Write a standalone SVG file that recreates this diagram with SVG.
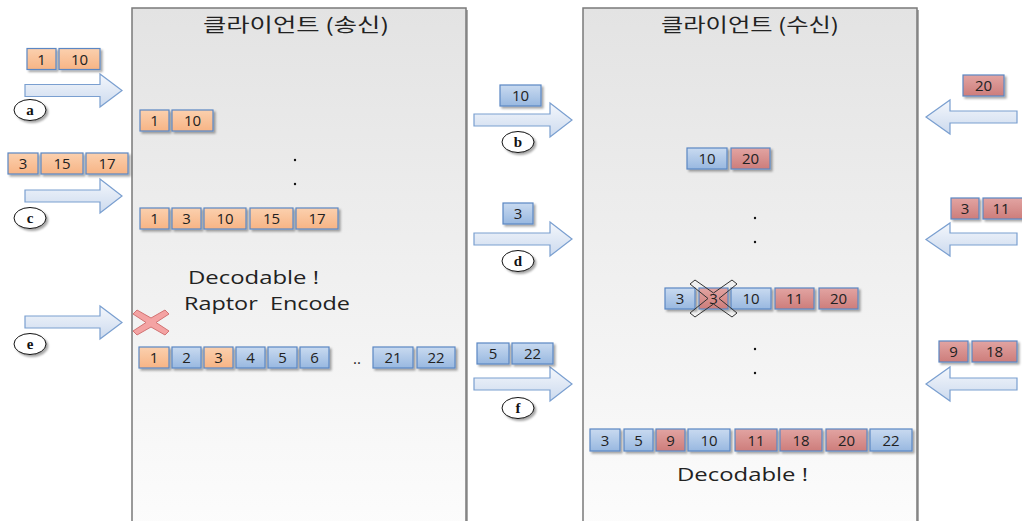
<svg xmlns="http://www.w3.org/2000/svg" width="1022" height="521" viewBox="0 0 1022 521">
<defs>
<linearGradient id="gPanel" x1="0" y1="0" x2="0" y2="1"><stop offset="0" stop-color="#e3e3e3"/><stop offset="1" stop-color="#fcfcfc"/></linearGradient>
<linearGradient id="gO" x1="0" y1="0" x2="0" y2="1"><stop offset="0" stop-color="#fbd0ae"/><stop offset="1" stop-color="#f7b485"/></linearGradient>
<linearGradient id="gB" x1="0" y1="0" x2="0" y2="1"><stop offset="0" stop-color="#c9daf0"/><stop offset="1" stop-color="#98b8e0"/></linearGradient>
<linearGradient id="gR" x1="0" y1="0" x2="0" y2="1"><stop offset="0" stop-color="#e2a4a2"/><stop offset="1" stop-color="#cd7d7b"/></linearGradient>
<linearGradient id="gA" x1="0" y1="0" x2="0" y2="1"><stop offset="0" stop-color="#f4f7fc"/><stop offset="1" stop-color="#ccdaee"/></linearGradient>
<filter id="sh" x="-20%" y="-20%" width="150%" height="160%"><feDropShadow dx="2" dy="2" stdDeviation="1" flood-color="#000" flood-opacity="0.35"/></filter>
</defs>
<style>
.panel{fill:url(#gPanel);stroke:#7a7a7a;stroke-width:1.5}
.o{fill:url(#gO);stroke:#5b87c3;stroke-width:1.2;filter:url(#sh)}
.b{fill:url(#gB);stroke:#5b87c3;stroke-width:1.2;filter:url(#sh)}
.r{fill:url(#gR);stroke:#5b87c3;stroke-width:1.2;filter:url(#sh)}
.t{font-family:"Open Sans","Liberation Sans",Arial,sans-serif;font-size:15px;fill:#222;text-anchor:middle}
.arr{fill:url(#gA);stroke:#7a9fd0;stroke-width:1.2}
.circ{fill:#fff;stroke:#111;stroke-width:1;filter:url(#sh)}
.lbl{font-family:"Liberation Serif","Times New Roman",serif;font-weight:bold;font-size:15px;fill:#111;text-anchor:middle}
.title{font-family:"Noto Sans CJK KR","Noto Sans",sans-serif;font-size:19px;fill:#222;text-anchor:middle}
.big{font-family:"Open Sans","Liberation Sans",sans-serif;font-size:19px;fill:#222}
.dot{fill:#111}
</style>

<g id="panel-send">
<rect x="134" y="10" width="334" height="520" fill="#555" opacity="0.5"/>
<rect class="panel" x="132" y="8" width="334" height="520"/>
<text class="title" x="296" y="32" textLength="186" lengthAdjust="spacingAndGlyphs">클라이언트 (송신)</text>
</g>
<g id="panel-recv">
<rect x="585" y="10" width="334" height="520" fill="#555" opacity="0.5"/>
<rect class="panel" x="583" y="8" width="334" height="520"/>
<text class="title" x="750" y="32" textLength="178" lengthAdjust="spacingAndGlyphs">클라이언트 (수신)</text>
</g>

<g id="connectors">
<path class="arr" d="M25,84.5 L100,84.5 L100,74 L122,90.5 L100,107 L100,96.5 L25,96.5 Z"/>
<path class="arr" d="M25,190 L100,190 L100,179 L122,196 L100,213 L100,202 L25,202 Z"/>
<path class="arr" d="M25,316 L100,316 L100,306 L122,322.5 L100,339 L100,328 L25,328 Z"/>
<path class="arr" d="M474,114 L550,114 L550,103 L572,120 L550,137 L550,126 L474,126 Z"/>
<path class="arr" d="M474,233 L550,233 L550,222 L572,239 L550,256 L550,245 L474,245 Z"/>
<path class="arr" d="M474,378 L550,378 L550,367 L572,384 L550,401 L550,390 L474,390 Z"/>
<path class="arr" d="M1017,111 L950,111 L950,100 L926,117 L950,134 L950,123 L1017,123 Z"/>
<path class="arr" d="M1017,233 L950,233 L950,223 L926,239.5 L950,256 L950,245 L1017,245 Z"/>
<path class="arr" d="M1017,378 L950,378 L950,367 L926,384 L950,401 L950,390 L1017,390 Z"/>
</g>

<g id="label-a"><ellipse class="circ" cx="30" cy="110" rx="16" ry="10.5"/><text class="lbl" x="30" y="114.5">a</text></g>
<g id="label-c"><ellipse class="circ" cx="30" cy="218" rx="16" ry="10.5"/><text class="lbl" x="30" y="222.5">c</text></g>
<g id="label-e"><ellipse class="circ" cx="30" cy="344" rx="16" ry="10.5"/><text class="lbl" x="30" y="348.5">e</text></g>
<g id="label-b"><ellipse class="circ" cx="518" cy="142" rx="16" ry="10.5"/><text class="lbl" x="518" y="146.5">b</text></g>
<g id="label-d"><ellipse class="circ" cx="518" cy="261" rx="16" ry="10.5"/><text class="lbl" x="518" y="265.5">d</text></g>
<g id="label-f"><ellipse class="circ" cx="518" cy="408" rx="16" ry="10.5"/><text class="lbl" x="518" y="412.5">f</text></g>

<g id="in-a">
<rect class="o" x="27" y="48.5" width="29" height="21"/><text class="t" x="41.5" y="64.5">1</text>
<rect class="o" x="59" y="48.5" width="41" height="21"/><text class="t" x="79.5" y="64.5">10</text>
</g>
<g id="in-c">
<rect class="o" x="8" y="153" width="30" height="21"/><text class="t" x="23" y="169">3</text>
<rect class="o" x="41" y="153" width="42" height="21"/><text class="t" x="62" y="169">15</text>
<rect class="o" x="86" y="153" width="42" height="21"/><text class="t" x="107" y="169">17</text>
</g>
<g id="lost-e">
<path d="M133,314 L137,310 L151,318 L165,310 L169,314 L156,322.5 L169,331 L165,335 L151,327 L137,335 L133,331 L146,322.5 Z" fill="#f4a3a3" stroke="#d27373" stroke-width="1"/>
</g>

<g id="send-row1">
<rect class="o" x="140" y="110" width="29" height="21"/><text class="t" x="154.5" y="126">1</text>
<rect class="o" x="172" y="110" width="41" height="21"/><text class="t" x="192.5" y="126">10</text>
</g>
<g id="send-dots"><circle class="dot" cx="295" cy="160" r="1.2"/><circle class="dot" cx="295" cy="184" r="1.2"/></g>
<g id="send-row2">
<rect class="o" x="140" y="208" width="29" height="21"/><text class="t" x="154.5" y="224">1</text>
<rect class="o" x="172" y="208" width="29" height="21"/><text class="t" x="186.5" y="224">3</text>
<rect class="o" x="204" y="208" width="42" height="21"/><text class="t" x="225" y="224">10</text>
<rect class="o" x="250" y="208" width="43" height="21"/><text class="t" x="271.5" y="224">15</text>
<rect class="o" x="296" y="208" width="42" height="21"/><text class="t" x="317" y="224">17</text>
</g>
<g id="send-text">
<text class="big" x="188" y="284" textLength="131" lengthAdjust="spacingAndGlyphs">Decodable !</text>
<text class="big" x="184" y="310" textLength="166" lengthAdjust="spacingAndGlyphs" xml:space="preserve">Raptor  Encode</text>
</g>
<g id="send-row3">
<rect class="o" x="139" y="347" width="30" height="21"/><text class="t" x="154" y="363">1</text>
<rect class="b" x="172" y="347" width="29" height="21"/><text class="t" x="186.5" y="363">2</text>
<rect class="o" x="204" y="347" width="29" height="21"/><text class="t" x="218.5" y="363">3</text>
<rect class="b" x="236" y="347" width="29" height="21"/><text class="t" x="250.5" y="363">4</text>
<rect class="b" x="268" y="347" width="29" height="21"/><text class="t" x="282.5" y="363">5</text>
<rect class="b" x="300" y="347" width="29" height="21"/><text class="t" x="314.5" y="363">6</text>
<text class="t" x="357" y="364">..</text>
<rect class="b" x="373" y="347" width="40" height="21"/><text class="t" x="393" y="363">21</text>
<rect class="b" x="417" y="347" width="38" height="21"/><text class="t" x="436" y="363">22</text>
</g>

<g id="pkt-b"><rect class="b" x="500" y="85" width="41" height="21"/><text class="t" x="520.5" y="101">10</text></g>
<g id="pkt-d"><rect class="b" x="503" y="203" width="30" height="21"/><text class="t" x="518" y="219">3</text></g>
<g id="pkt-f">
<rect class="b" x="477" y="343" width="32" height="21"/><text class="t" x="493" y="359">5</text>
<rect class="b" x="512" y="343" width="41" height="21"/><text class="t" x="532.5" y="359">22</text>
</g>

<g id="pkt-in-20"><rect class="r" x="963" y="75" width="41" height="21"/><text class="t" x="983.5" y="91">20</text></g>
<g id="pkt-in-11">
<rect class="r" x="951" y="198" width="28" height="21"/><text class="t" x="965" y="214">3</text>
<rect class="r" x="983" y="198" width="40" height="21"/><text class="t" x="1001" y="214">11</text>
</g>
<g id="pkt-in-18">
<rect class="r" x="939" y="341" width="29" height="21"/><text class="t" x="953.5" y="357">9</text>
<rect class="r" x="972" y="341" width="45" height="21"/><text class="t" x="994.5" y="357">18</text>
</g>

<g id="recv-row1">
<rect class="b" x="687" y="148" width="40" height="21"/><text class="t" x="707" y="164">10</text>
<rect class="r" x="731" y="148" width="39" height="21"/><text class="t" x="750.5" y="164">20</text>
</g>
<g id="recv-dots1"><circle class="dot" cx="755" cy="218" r="1.2"/><circle class="dot" cx="755" cy="242" r="1.2"/></g>
<g id="recv-row2">
<rect class="b" x="665" y="288" width="30" height="21"/><text class="t" x="680" y="304">3</text>
<rect class="r" x="699" y="288" width="29" height="21"/><text class="t" x="713.5" y="304">3</text>
<rect class="b" x="731" y="288" width="40" height="21"/><text class="t" x="751" y="304">10</text>
<rect class="r" x="775" y="288" width="39" height="21"/><text class="t" x="794.5" y="304">11</text>
<rect class="r" x="819" y="288" width="39" height="21"/><text class="t" x="838.5" y="304">20</text>
<path d="M690,284 L695,280 L713.5,293 L732,280 L737,284 L719,298.5 L737,313 L732,317 L713.5,304 L695,317 L690,313 L708,298.5 Z" fill="none" stroke="#333" stroke-width="1"/>
</g>
<g id="recv-dots2"><circle class="dot" cx="755" cy="349" r="1.2"/><circle class="dot" cx="755" cy="373" r="1.2"/></g>
<g id="recv-row3">
<rect class="b" x="590" y="429" width="30" height="22"/><text class="t" x="605" y="445.5">3</text>
<rect class="b" x="624" y="429" width="29" height="22"/><text class="t" x="638.5" y="445.5">5</text>
<rect class="r" x="656" y="429" width="29" height="22"/><text class="t" x="670.5" y="445.5">9</text>
<rect class="b" x="688" y="429" width="42" height="22"/><text class="t" x="709" y="445.5">10</text>
<rect class="r" x="735" y="429" width="42" height="22"/><text class="t" x="756" y="445.5">11</text>
<rect class="r" x="780" y="429" width="42" height="22"/><text class="t" x="801" y="445.5">18</text>
<rect class="r" x="826" y="429" width="41" height="22"/><text class="t" x="846.5" y="445.5">20</text>
<rect class="b" x="870" y="429" width="42" height="22"/><text class="t" x="891" y="445.5">22</text>
</g>
<g id="recv-text"><text class="big" x="677" y="481" textLength="131" lengthAdjust="spacingAndGlyphs">Decodable !</text></g>
</svg>
